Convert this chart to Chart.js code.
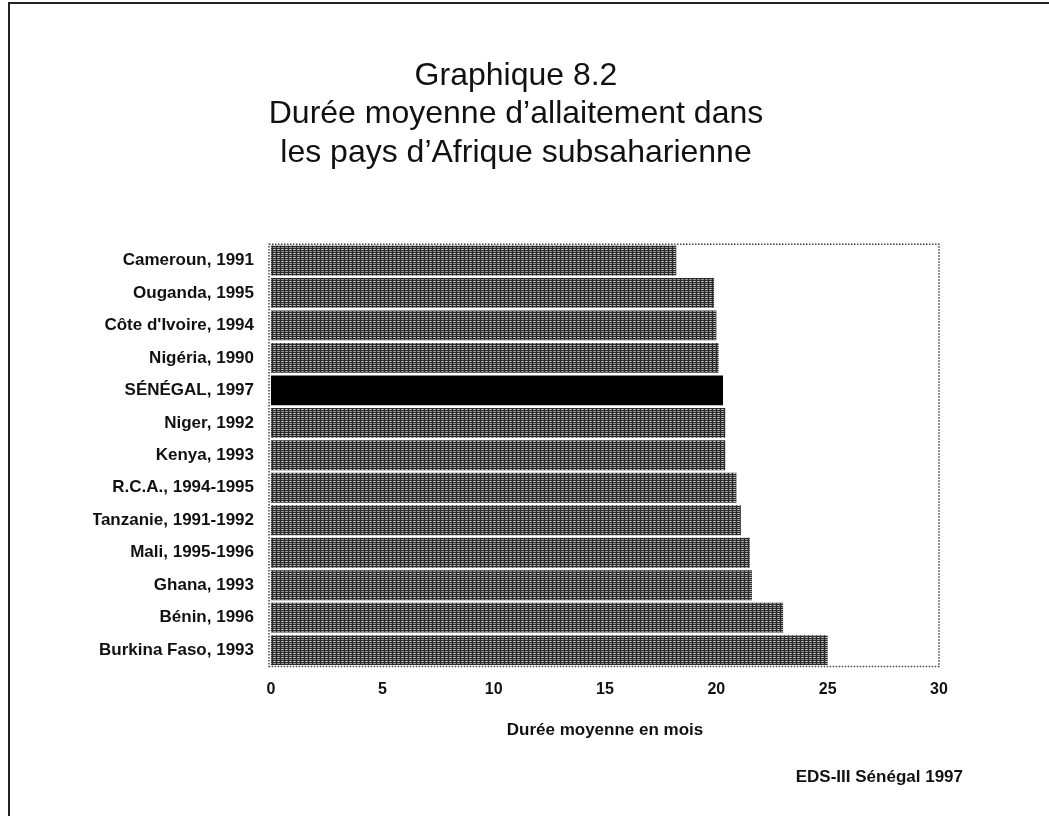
<!DOCTYPE html>
<html>
<head>
<meta charset="utf-8">
<script src="https://cdn.jsdelivr.net/npm/chart.js@4.4.0/dist/chart.umd.min.js"></script>
<style>
  html, body { margin: 0; padding: 0; background: #fff; }
  #wrap { width: 1049px; height: 816px; position: relative; }
</style>
</head>
<body>
<div id="wrap"><canvas id="my-chart" width="1049" height="816"></canvas></div>
<script>
"use strict";

const countries = [
  "Cameroun, 1991",
  "Ouganda, 1995",
  "Côte d'Ivoire, 1994",
  "Nigéria, 1990",
  "SÉNÉGAL, 1997",
  "Niger, 1992",
  "Kenya, 1993",
  "R.C.A., 1994-1995",
  "Tanzanie, 1991-1992",
  "Mali, 1995-1996",
  "Ghana, 1993",
  "Bénin, 1996",
  "Burkina Faso, 1993"
];
const durations = [18.2, 19.9, 20.0, 20.1, 20.3, 20.4, 20.4, 20.9, 21.1, 21.5, 21.6, 23.0, 25.0];
const xTicks = [0, 5, 10, 15, 20, 25, 30];
const titleLines = ["Graphique 8.2", "Durée moyenne d\u2019allaitement dans", "les pays d\u2019Afrique subsaharienne"];
const source = "EDS-III Sénégal 1997";

const FONT = "'Liberation Sans', Arial, Helvetica, sans-serif";

// stippled grey fill like the scanned print
function makePattern() {
  const c = document.createElement("canvas");
  c.width = 4; c.height = 4;
  const g = c.getContext("2d");
  g.fillStyle = "#909090";
  g.fillRect(0, 0, 4, 4);
  g.fillStyle = "#2a2a2a";
  g.fillRect(0, 0, 4, 1);
  g.fillRect(0, 2, 4, 1);
  g.fillRect(0, 0, 1, 4);
  g.fillStyle = "#e0e0e0";
  g.fillRect(2, 1, 1, 1);
  return g.createPattern(c, "repeat");
}
const greyPattern = makePattern();

const barColors = countries.map(function (name) {
  return name.indexOf("SÉNÉGAL") === 0 ? "#000" : greyPattern;
});

// page border, dotted plot frame and the source line
const extras = {
  id: "extras",
  afterDraw: function (chart) {
    const ctx = chart.ctx;
    const a = chart.chartArea;
    ctx.save();
    ctx.strokeStyle = "#222";
    ctx.lineWidth = 2;
    ctx.strokeRect(9, 3, 1060, 830);

    ctx.strokeStyle = "#444";
    ctx.lineWidth = 1.5;
    ctx.setLineDash([1.5, 1.5]);
    ctx.strokeRect(a.left - 2, a.top, a.right - a.left + 2, a.bottom - a.top);
    ctx.setLineDash([]);

    ctx.fillStyle = "#111";
    ctx.font = "bold 17px " + FONT;
    ctx.textAlign = "right";
    ctx.textBaseline = "middle";
    ctx.fillText(source, 963, 777);
    ctx.restore();
  }
};

const ctx = document.getElementById("my-chart");
new Chart(ctx, {
  type: "bar",
  data: {
    labels: countries,
    datasets: [{
      data: durations,
      backgroundColor: barColors,
      borderWidth: 0,
      categoryPercentage: 0.92,
      barPercentage: 1
    }]
  },
  options: {
    indexAxis: "y",
    responsive: false,
    animation: false,
    layout: { padding: { left: 93, right: 110, top: 0, bottom: 75 } },
    plugins: {
      legend: { display: false },
      tooltip: { enabled: false },
      title: {
        display: true,
        text: titleLines,
        color: "#111",
        font: { family: FONT, size: 32, weight: "normal", lineHeight: 1.2 },
        padding: { top: 57, bottom: 72 }
      }
    },
    scales: {
      x: {
        min: 0,
        max: 30,
        afterBuildTicks: function (scale) {
          scale.ticks = xTicks.map(function (v) { return { value: v }; });
        },
        grid: { display: false, drawTicks: false },
        border: { display: false },
        ticks: {
          color: "#111",
          padding: 14,
          font: { family: FONT, size: 16, weight: "bold" }
        },
        title: {
          display: true,
          text: "Durée moyenne en mois",
          color: "#111",
          padding: { top: 7, bottom: 0 },
          font: { family: FONT, size: 17, weight: "bold" }
        }
      },
      y: {
        afterFit: function (scale) { scale.width = 178; },
        grid: { display: false, drawTicks: false },
        border: { display: false },
        ticks: {
          color: "#111",
          padding: 17,
          font: { family: FONT, size: 17, weight: "bold" }
        }
      }
    }
  },
  plugins: [extras]
});
</script>
</body>
</html>
